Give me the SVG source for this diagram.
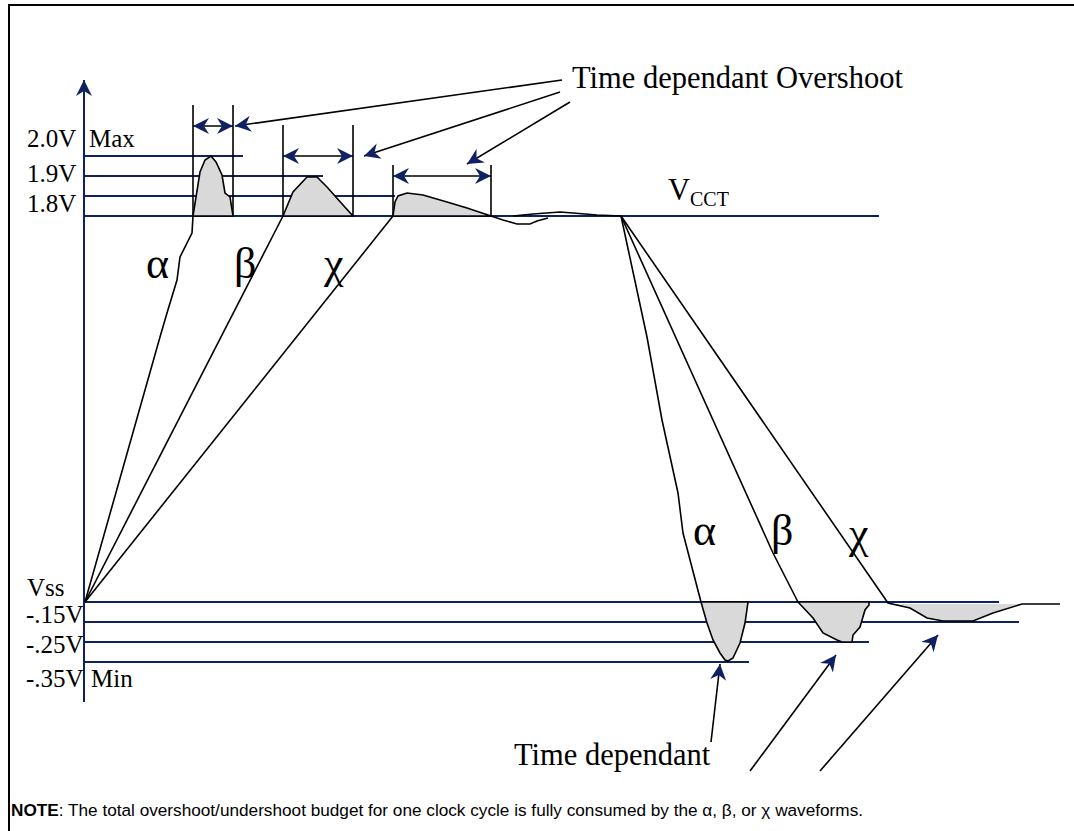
<svg xmlns="http://www.w3.org/2000/svg" width="1074" height="831" viewBox="0 0 1074 831">
<defs>
<style>
.nv{stroke:#0f2163;stroke-width:2;fill:none}
.bk{stroke:#000;stroke-width:1.6;fill:none}
.wf{stroke:#000;stroke-width:1.6;fill:#d9d9d9}
.lbl{font-family:"Liberation Serif","Times New Roman",serif;font-size:25px;fill:#000}
.big{font-family:"Liberation Serif","Times New Roman",serif;font-size:30.5px;fill:#000}
.gk{font-family:"Liberation Serif","Times New Roman",serif;font-size:44px;fill:#000}
.note{font-family:"Liberation Sans",Arial,sans-serif;font-size:17.2px;fill:#000}
</style>
<marker id="ah" viewBox="0 0 16 16" refX="16" refY="8" markerWidth="16" markerHeight="16" markerUnits="userSpaceOnUse" orient="auto-start-reverse">
<path d="M0,0 L16,8 L0,16 L5,8 Z" fill="#0f2163"/>
</marker>
</defs>
<rect x="0" y="0" width="1074" height="831" fill="#fff"/>
<g id="frame">
<path d="M9,831 L9,5 L1074,5" stroke="#000" stroke-width="2" fill="none"/>
</g>
<g id="axis">
<line x1="84" y1="702" x2="84" y2="80" class="nv" marker-end="url(#ah)"/>
</g>
<g id="levels">
<line x1="84" y1="156" x2="243" y2="156" class="nv"/>
<line x1="84" y1="176" x2="323" y2="176" class="nv"/>
<line x1="84" y1="196" x2="395" y2="196" class="nv"/>
<line x1="84" y1="216" x2="879" y2="216" class="nv"/>
<line x1="84" y1="602" x2="999" y2="602" class="nv"/>
<line x1="84" y1="622" x2="1019" y2="622" class="nv"/>
<line x1="84" y1="642" x2="869" y2="642" class="nv"/>
<line x1="84" y1="662" x2="749" y2="662" class="nv"/>
</g>
<g id="labels">
<text x="27" y="147" class="lbl">2.0V</text>
<text x="89" y="147" class="lbl">Max</text>
<text x="27" y="182" class="lbl">1.9V</text>
<text x="27" y="212" class="lbl">1.8V</text>
<text x="27" y="596" class="lbl">Vss</text>
<text x="26" y="623" class="lbl">-.15V</text>
<text x="26" y="653" class="lbl">-.25V</text>
<text x="26" y="687" class="lbl">-.35V</text>
<text x="91" y="687" class="lbl">Min</text>
<text x="668" y="200" class="big" font-size="34">V<tspan font-size="20" dy="6">CCT</tspan></text>
<text x="572" y="88" class="big">Time dependant Overshoot</text>
<text x="514" y="765" class="big" font-size="32">Time dependant</text>
<text x="146" y="278" class="gk">α</text>
<text x="234" y="278" class="gk">β</text>
<text x="324" y="278" class="gk">χ</text>
<text x="693" y="545" class="gk">α</text>
<text x="771" y="545" class="gk">β</text>
<text x="849" y="548" class="gk">χ</text>
<text x="11" y="816" class="note"><tspan font-weight="bold">NOTE</tspan>: The total overshoot/undershoot budget for one clock cycle is fully consumed by the α, β, or χ waveforms.</text>
</g>
<g id="wave-alpha-rise">
<path d="M193,216 L200,172 L205,160 L211,156 L216,162 L222,175 L225,193 L230,197 L233,216 Z" class="wf"/>
<path d="M85,602 L160,337 L167,313 L177,280 L180,257 L192,233 L193,216" class="bk"/>
<line x1="193" y1="105" x2="193" y2="216" class="bk"/>
<line x1="233" y1="105" x2="233" y2="216" class="bk"/>
</g>
<g id="wave-beta-rise">
<path d="M283,216 L293,192 L307,177 L317,177 L327,187 L343,205 L353,216 Z" class="wf"/>
<line x1="85" y1="602" x2="283" y2="216" class="bk"/>
<line x1="283" y1="125" x2="283" y2="216" class="bk"/>
<line x1="353" y1="125" x2="353" y2="216" class="bk"/>
</g>
<g id="wave-chi-rise">
<path d="M393,216 L395,202 L398,196 L407,193 L423,195 L447,202 L467,208 L491,216 Z" class="wf"/>
<line x1="85" y1="602" x2="393" y2="216" class="bk"/>
<line x1="393" y1="165" x2="393" y2="216" class="bk"/>
<line x1="491" y1="165" x2="491" y2="216" class="bk"/>
<path d="M491,216 L503,220 L517,224 L530,224 L537,221 L548,218" class="bk"/>
<path d="M513,216 L533,214 L560,212 L573,213 L597,215 L621,216" class="bk"/>
</g>
<g id="wave-alpha-fall">
<path d="M701,602 L707,623 L713,640 L720,653 L725,660 L728,661 L733,658 L740,643 L745,623 L748,602 Z" class="wf"/>
<path d="M621,216 L647,337 L662,420 L678,493 L683,533 L701,602" class="bk"/>
</g>
<g id="wave-beta-fall">
<path d="M798,602 L813,618 L823,633 L837,640 L842,642 L852,642 L853,635 L860,627 L865,610 L869,605 L869,602 Z" class="wf"/>
<path d="M621,216 L773,553 L798,602" class="bk"/>
</g>
<g id="wave-chi-fall">
<path d="M888,604 L910,608 L927,618 L943,621 L973,621 L993,613 L1022,604 Z" fill="#d9d9d9"/>
<path d="M621,216 L888,603 L910,608 L927,618 L943,621 L973,621 L993,613 L1022,604 L1060,604" class="bk"/>
</g>
<g id="connectors">
<line x1="193" y1="126" x2="233" y2="126" class="bk" marker-start="url(#ah)" marker-end="url(#ah)"/>
<line x1="283" y1="156" x2="353" y2="156" class="bk" marker-start="url(#ah)" marker-end="url(#ah)"/>
<line x1="393" y1="176" x2="491" y2="176" class="bk" marker-start="url(#ah)" marker-end="url(#ah)"/>
<line x1="562" y1="80" x2="235" y2="126" class="bk" marker-end="url(#ah)"/>
<line x1="560" y1="92" x2="364" y2="156" class="bk" marker-end="url(#ah)"/>
<line x1="570" y1="102" x2="467" y2="164" class="bk" marker-end="url(#ah)"/>
<line x1="711" y1="742" x2="720" y2="664" class="bk" marker-end="url(#ah)"/>
<line x1="750" y1="771" x2="836" y2="655" class="bk" marker-end="url(#ah)"/>
<line x1="820" y1="771" x2="938" y2="635" class="bk" marker-end="url(#ah)"/>
</g>
</svg>
